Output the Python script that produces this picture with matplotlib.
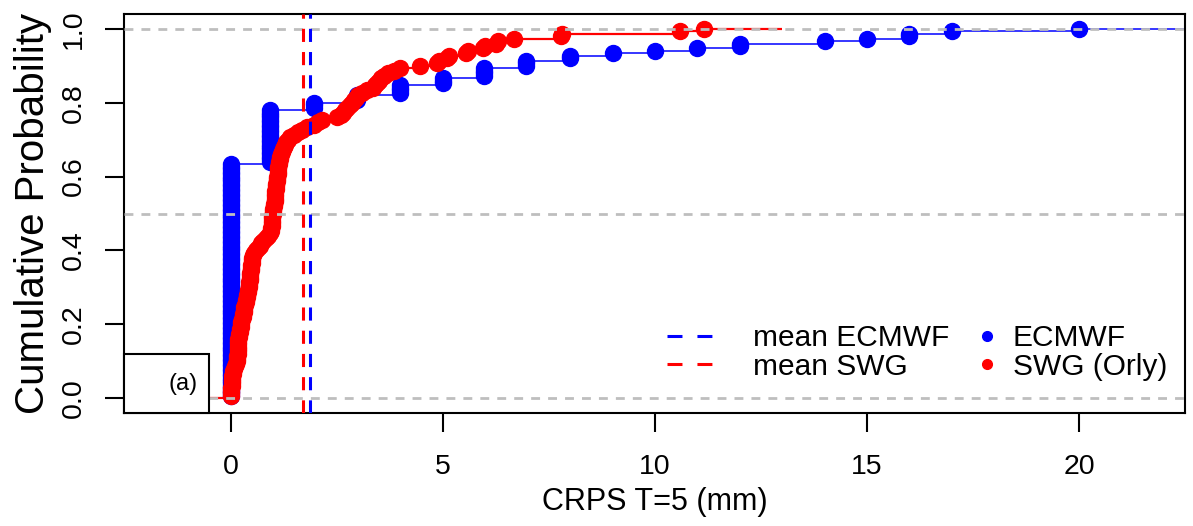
import numpy as np
import matplotlib
matplotlib.use("Agg")
import matplotlib.pyplot as plt
from matplotlib.patches import Rectangle
from matplotlib.lines import Line2D

plt.rcParams['font.family'] = ['Liberation Sans', 'DejaVu Sans']

# ECMWF CRPS values (near-ties grouped as value + count), n = 150
ecmwf_vals = [0.0, 0.92, 1.95, 2.97, 4.0, 5.0, 5.97, 6.97, 8.0, 9.0,
              10.0, 11.0, 12.0, 14.0, 15.0, 16.0, 17.0, 20.0]
ecmwf_counts = [95, 22, 3, 3, 4, 3, 4, 3, 2, 1, 1, 1, 2, 1, 1, 2, 1, 1]

# SWG (Orly) CRPS values, sorted, n = 150
swg_vals = [0.00, 0.00, 0.01, 0.01, 0.02,
            0.02, 0.02, 0.03, 0.03, 0.04, 0.05,
            0.07, 0.10, 0.12, 0.14,
            0.15, 0.15, 0.16, 0.16, 0.17, 0.17, 0.17, 0.18, 0.18,
            0.19, 0.20, 0.21, 0.22, 0.23, 0.24, 0.25, 0.26, 0.28,
            0.29, 0.30, 0.31, 0.32, 0.33, 0.35, 0.36, 0.37, 0.38, 0.40,
            0.41, 0.42, 0.42, 0.43, 0.44, 0.45, 0.45, 0.46, 0.47, 0.48,
            0.48, 0.49, 0.50, 0.51, 0.52,
            0.55, 0.60, 0.64, 0.68, 0.72,
            0.76, 0.82, 0.88, 0.93,
            0.94, 0.95, 0.96, 0.96, 0.97, 0.97, 0.98, 0.99, 0.99, 1.00,
            1.01, 1.02, 1.03,
            1.04, 1.04, 1.05, 1.05, 1.06, 1.06, 1.07, 1.08, 1.08, 1.09,
            1.10, 1.10, 1.11, 1.12, 1.13, 1.14, 1.15,
            1.17, 1.19, 1.21, 1.23, 1.25, 1.28, 1.31, 1.35, 1.40,
            1.48, 1.58, 1.68, 1.80,
            1.95, 2.06, 2.15, 2.50,
            2.60, 2.65, 2.70, 2.75, 2.80, 2.85, 2.90,
            2.95, 3.00, 3.10, 3.20, 3.35,
            3.40, 3.45, 3.50, 3.55, 3.60, 3.70, 3.84,
            4.00, 4.47, 4.85, 4.90,
            5.10, 5.15, 5.55, 5.60, 5.95, 6.00,
            6.25, 6.30, 6.68,
            7.79, 7.80, 10.60, 11.15]

mean_ecmwf = 1.86
mean_swg = 1.69

BLUE = '#0000FF'
RED = '#FF0000'
GRAY = '#BEBEBE'


def plot_ecdf(ax, x, color, lw, x_left, x_right):
    x = np.sort(np.asarray(x, dtype=float))
    n = len(x)
    knots, cnt = np.unique(x, return_counts=True)
    levels = np.cumsum(cnt) / n
    # horizontal steps only (like R's plot.ecdf)
    x0 = np.concatenate([[x_left], knots])
    x1 = np.concatenate([knots, [x_right]])
    yy = np.concatenate([[0.0], levels])
    ax.hlines(yy, x0, x1, colors=color, lw=lw, zorder=2)
    # one point per observation -> near-ties stack up as columns
    ax.plot(x, np.arange(1, n + 1) / n, 'o', color=color, ms=11.5,
            mec=color, zorder=3, clip_on=False)


fig = plt.figure(figsize=(11.93, 5.26), dpi=100)
ax = fig.add_axes([124 / 1193, 1 - 413 / 526, 1061 / 1193, 399 / 526])

plot_ecdf(ax, np.repeat(ecmwf_vals, ecmwf_counts), BLUE, 1.1, -2.0, 24.0)
plot_ecdf(ax, swg_vals, RED, 1.6, -2.0, 13.0)

for h in [0.0, 0.5, 1.0]:
    ax.axhline(h, color=GRAY, lw=2.0, ls=(0, (3.2, 2.9)), zorder=4)

ax.axvline(mean_swg, color=RED, lw=2.2, ls=(0, (4.3, 3.3)), zorder=4)
ax.axvline(mean_ecmwf, color=BLUE, lw=2.2, ls=(0, (4.3, 3.3)), zorder=4)

ax.set_xlim(-2.52, 22.5)
ax.set_ylim(-0.04, 1.04)
ax.set_xticks([0, 5, 10, 15, 20])
ax.set_yticks([0.0, 0.2, 0.4, 0.6, 0.8, 1.0])
ax.set_yticklabels(['0.0', '0.2', '0.4', '0.6', '0.8', '1.0'])

for s in ax.spines.values():
    s.set_linewidth(1.5)
ax.tick_params(axis='both', length=13.7, width=1.5, labelsize=20.5)
ax.tick_params(axis='x', pad=16)
ax.tick_params(axis='y', pad=13, labelrotation=90)
for lab in ax.get_yticklabels():
    lab.set_va('center')

ax.set_xlabel('CRPS T=5 (mm)', fontsize=22)
ax.xaxis.set_label_coords(0.5, -0.185)
ax.set_ylabel('Cumulative Probability', fontsize=29)
ax.yaxis.set_label_coords(-0.068, 0.5)

# panel tag box
ax.add_patch(Rectangle((0, 0), 85 / 1061, 59 / 399, transform=ax.transAxes,
                       fc='white', ec='black', lw=1.5, zorder=6, clip_on=False))
ax.text(0.0556, 0.0727, '(a)', transform=ax.transAxes, ha='center',
        va='center', fontsize=17, zorder=7)

# legends
h_lines = [Line2D([], [], color=BLUE, lw=2.2, ls=(0, (4.9, 4.9))),
           Line2D([], [], color=RED, lw=2.2, ls=(0, (4.9, 4.9)))]
leg1 = ax.legend(h_lines, ['mean ECMWF', 'mean SWG'], loc='upper left',
                 bbox_to_anchor=(0.5118, 0.223), frameon=False, fontsize=21.5,
                 handlelength=1.55, handletextpad=1.33, labelspacing=0.03,
                 borderpad=0, borderaxespad=0)
ax.add_artist(leg1)
h_dots = [Line2D([], [], color=BLUE, marker='o', ls='', ms=7),
          Line2D([], [], color=RED, marker='o', ls='', ms=7)]
ax.legend(h_dots, ['ECMWF', 'SWG (Orly)'], loc='upper left',
          bbox_to_anchor=(0.805, 0.223), frameon=False, fontsize=21.5,
          handlelength=0.6, handletextpad=0.56, labelspacing=0.03,
          borderpad=0, borderaxespad=0)

fig.savefig('out.png', dpi=100)
